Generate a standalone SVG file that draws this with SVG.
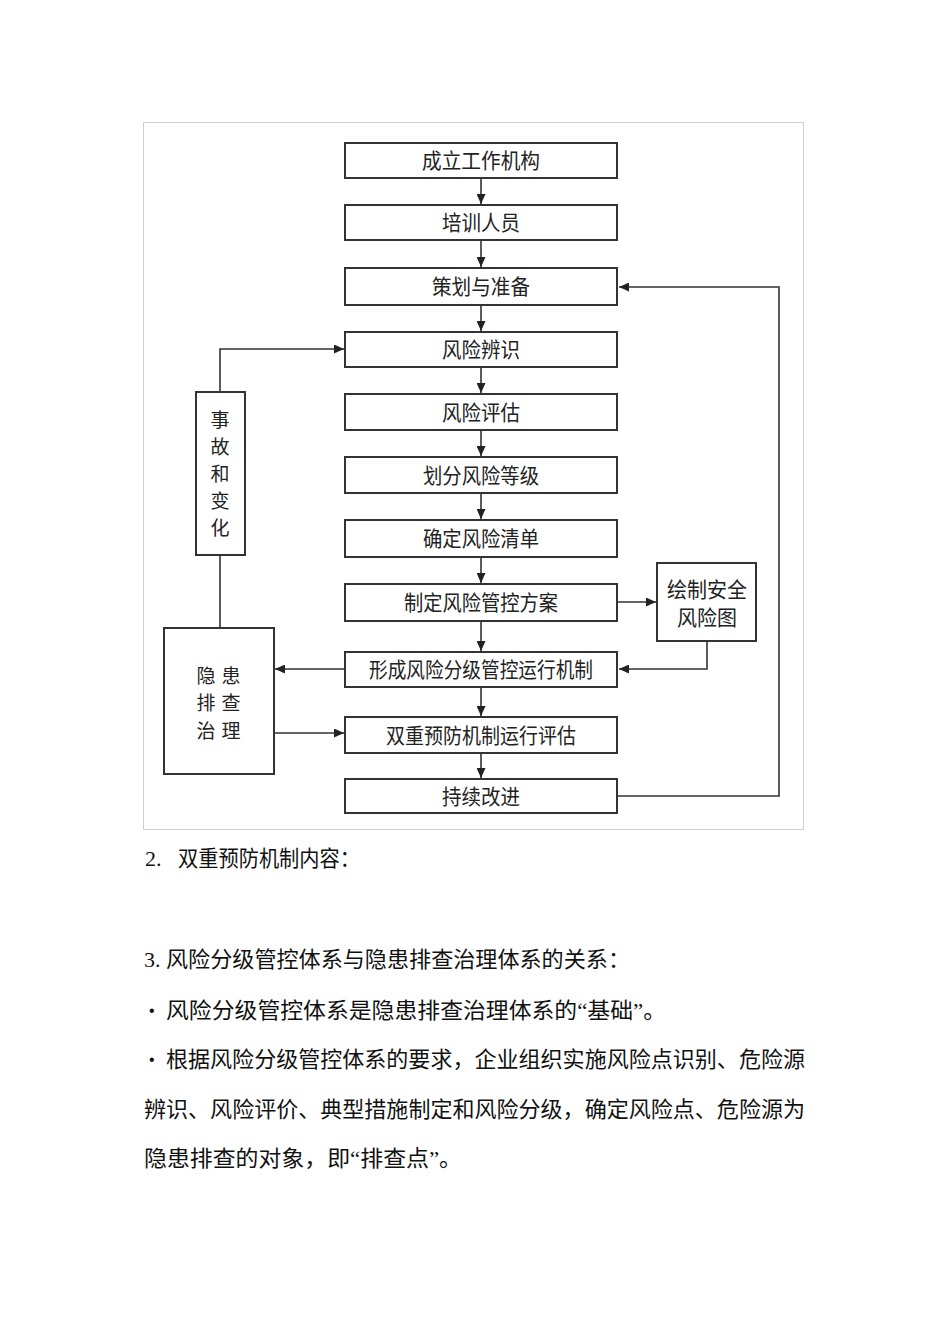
<svg xmlns="http://www.w3.org/2000/svg" width="950" height="1344" viewBox="0 0 950 1344">
<style>
.box{fill:#fff;stroke:#333;stroke-width:2}
.t{font-family:"Noto Sans CJK SC","Liberation Sans",sans-serif;font-size:21px;fill:#222;text-anchor:middle}
.v{font-family:"Noto Sans CJK SC","Liberation Sans",sans-serif;font-size:19px;fill:#222;text-anchor:middle}
.c{fill:none;stroke:#333;stroke-width:1.6}
.p{font-family:"Liberation Serif","Noto Sans CJK SC",serif;font-size:22px;fill:#111}
.b{font-family:"Liberation Sans",sans-serif;font-size:16px;fill:#111}
</style>
<defs>
<marker id="ah" markerUnits="userSpaceOnUse" markerWidth="10" markerHeight="9" refX="10" refY="4.5" orient="auto">
<path d="M0,0 L10,4.5 L0,9 z" fill="#222"/>
</marker>
</defs>
<rect x="143.5" y="122.5" width="660" height="707" fill="#fff" stroke="#d0d0d0" stroke-width="1"/>

<g id="connectors">
<line class="c" x1="481" y1="178" x2="481" y2="204" marker-end="url(#ah)"/>
<line class="c" x1="481" y1="240" x2="481" y2="267" marker-end="url(#ah)"/>
<line class="c" x1="481" y1="305" x2="481" y2="331" marker-end="url(#ah)"/>
<line class="c" x1="481" y1="367" x2="481" y2="393" marker-end="url(#ah)"/>
<line class="c" x1="481" y1="430" x2="481" y2="456" marker-end="url(#ah)"/>
<line class="c" x1="481" y1="493" x2="481" y2="519" marker-end="url(#ah)"/>
<line class="c" x1="481" y1="557" x2="481" y2="583" marker-end="url(#ah)"/>
<line class="c" x1="481" y1="621" x2="481" y2="651" marker-end="url(#ah)"/>
<line class="c" x1="481" y1="687" x2="481" y2="716" marker-end="url(#ah)"/>
<line class="c" x1="481" y1="753" x2="481" y2="778" marker-end="url(#ah)"/>
<polyline class="c" points="220,392 220,349 344,349" marker-end="url(#ah)"/>
<line class="c" x1="220" y1="555" x2="220" y2="628"/>
<line class="c" x1="345" y1="669" x2="275" y2="669" marker-end="url(#ah)"/>
<line class="c" x1="274" y1="733" x2="344" y2="733" marker-end="url(#ah)"/>
<line class="c" x1="618" y1="602" x2="656" y2="602" stroke-width="2.4" marker-end="url(#ah)"/>
<polyline class="c" points="707,641 707,669 619,669" marker-end="url(#ah)"/>
<polyline class="c" points="618,796 779,796 779,287 619,287" marker-end="url(#ah)"/>
</g>

<g id="n1"><rect class="box" x="345" y="143" width="272" height="35"/><text class="t" x="481" y="168" textLength="118" lengthAdjust="spacingAndGlyphs">成立工作机构</text></g>
<g id="n2"><rect class="box" x="345" y="205" width="272" height="35"/><text class="t" x="481" y="230" textLength="78" lengthAdjust="spacingAndGlyphs">培训人员</text></g>
<g id="n3"><rect class="box" x="345" y="268" width="272" height="37"/><text class="t" x="481" y="294" textLength="98" lengthAdjust="spacingAndGlyphs">策划与准备</text></g>
<g id="n4"><rect class="box" x="345" y="332" width="272" height="35"/><text class="t" x="481" y="357" textLength="78" lengthAdjust="spacingAndGlyphs">风险辨识</text></g>
<g id="n5"><rect class="box" x="345" y="394" width="272" height="36"/><text class="t" x="481" y="420" textLength="78" lengthAdjust="spacingAndGlyphs">风险评估</text></g>
<g id="n6"><rect class="box" x="345" y="457" width="272" height="36"/><text class="t" x="481" y="483" textLength="116" lengthAdjust="spacingAndGlyphs">划分风险等级</text></g>
<g id="n7"><rect class="box" x="345" y="520" width="272" height="37"/><text class="t" x="481" y="546" textLength="116" lengthAdjust="spacingAndGlyphs">确定风险清单</text></g>
<g id="n8"><rect class="box" x="345" y="584" width="272" height="37"/><text class="t" x="481" y="610" textLength="154" lengthAdjust="spacingAndGlyphs">制定风险管控方案</text></g>
<g id="n9"><rect class="box" x="345" y="652" width="272" height="35"/><text class="t" x="481" y="677" textLength="224" lengthAdjust="spacingAndGlyphs">形成风险分级管控运行机制</text></g>
<g id="n10"><rect class="box" x="345" y="717" width="272" height="36"/><text class="t" x="481" y="743" textLength="190" lengthAdjust="spacingAndGlyphs">双重预防机制运行评估</text></g>
<g id="n11"><rect class="box" x="345" y="779" width="272" height="34"/><text class="t" x="481" y="804" textLength="78" lengthAdjust="spacingAndGlyphs">持续改进</text></g>

<g id="n12"><rect class="box" x="196" y="392" width="49" height="163"/>
<text class="v"><tspan x="220" y="427">事</tspan><tspan x="220" y="454">故</tspan><tspan x="220" y="481">和</tspan><tspan x="220" y="508">变</tspan><tspan x="220" y="535">化</tspan></text></g>
<g id="n13"><rect class="box" x="164" y="628" width="110" height="146"/>
<text class="v"><tspan x="206" y="683">隐</tspan><tspan x="231" y="683">患</tspan><tspan x="206" y="710">排</tspan><tspan x="231" y="710">查</tspan><tspan x="206" y="738">治</tspan><tspan x="231" y="738">理</tspan></text></g>
<g id="n14"><rect class="box" x="657" y="563" width="99" height="78"/>
<text class="t"><tspan x="707" y="597" textLength="80" lengthAdjust="spacingAndGlyphs">绘制安全</tspan><tspan x="707" y="625" textLength="60" lengthAdjust="spacingAndGlyphs">风险图</tspan></text></g>

<g id="body">
<text class="p" x="145" y="866">2.</text>
<text class="p" x="178" y="866" textLength="182" lengthAdjust="spacingAndGlyphs">双重预防机制内容：</text>
<text class="p" x="144" y="967">3.</text>
<text class="p" x="166" y="967" textLength="464" lengthAdjust="spacingAndGlyphs">风险分级管控体系与隐患排查治理体系的关系：</text>
<text class="b" x="149" y="1016">•</text>
<text class="p" x="166" y="1018" textLength="500" lengthAdjust="spacingAndGlyphs">风险分级管控体系是隐患排查治理体系的“基础”。</text>
<text class="b" x="149" y="1065">•</text>
<text class="p" x="166" y="1067" textLength="639" lengthAdjust="spacingAndGlyphs">根据风险分级管控体系的要求，企业组织实施风险点识别、危险源</text>
<text class="p" x="144" y="1117" textLength="661" lengthAdjust="spacingAndGlyphs">辨识、风险评价、典型措施制定和风险分级，确定风险点、危险源为</text>
<text class="p" x="144" y="1166" textLength="318" lengthAdjust="spacingAndGlyphs">隐患排查的对象，即“排查点”。</text>
</g>
</svg>
